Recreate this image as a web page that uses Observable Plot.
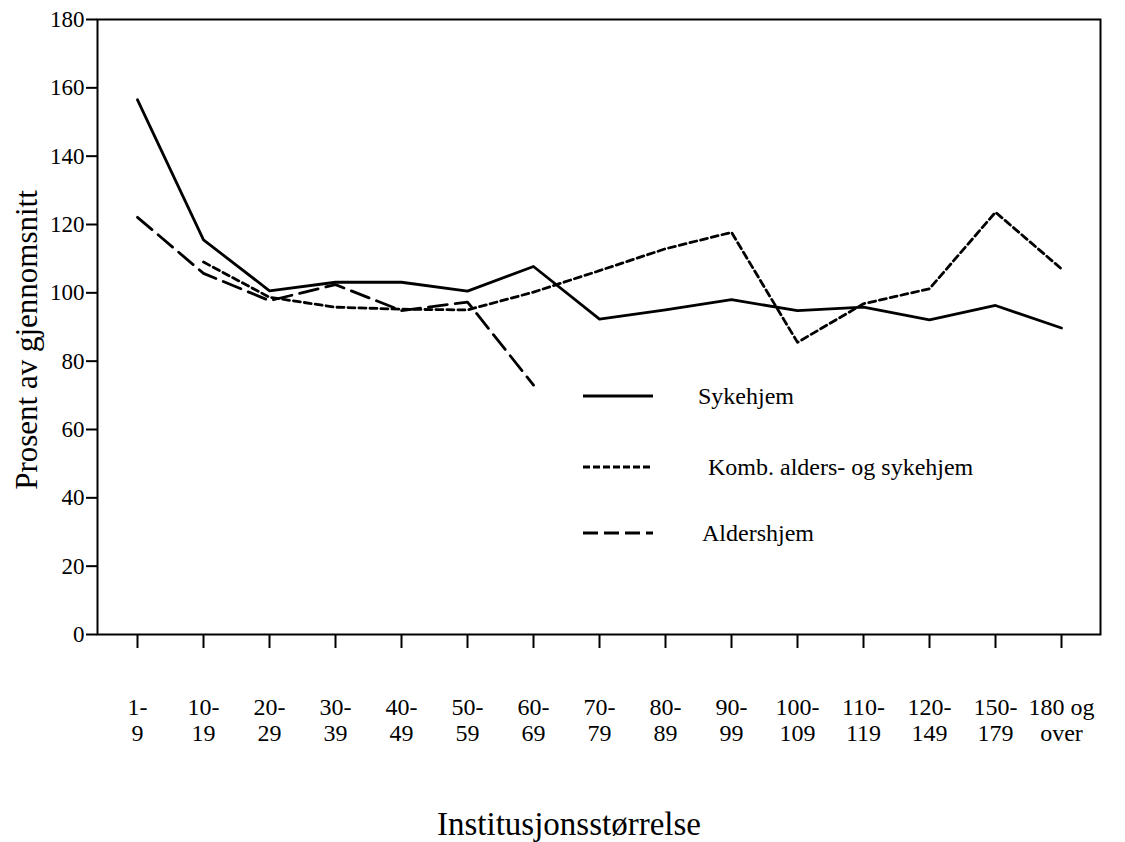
<!DOCTYPE html>
<html>
<head>
<meta charset="utf-8">
<script src="https://cdn.jsdelivr.net/npm/d3@7"></script>
<script src="https://cdn.jsdelivr.net/npm/@observablehq/plot@0.6"></script>
<style>
  html, body { margin: 0; padding: 0; background: #fff; }
  #wrap { position: relative; width: 1125px; height: 842px; font-family: "Liberation Serif", "Times New Roman", serif; }
  #legend { position: absolute; left: 0; top: 0; width: 1125px; height: 842px; pointer-events: none; }
  .item { position: absolute; display: flex; align-items: center; font-size: 24px; line-height: 26px; color: #000; }
</style>
</head>
<body>
<div id="wrap"></div>
<script>
const categories = ["1-\n9","10-\n19","20-\n29","30-\n39","40-\n49","50-\n59","60-\n69","70-\n79","80-\n89","90-\n99","100-\n109","110-\n119","120-\n149","150-\n179","180 og\nover"];
const sykehjem = [156.5, 115.5, 100.6, 103.1, 103.1, 100.5, 107.7, 92.3, 95.0, 98.0, 94.8, 95.8, 92.1, 96.3, 89.7];
const komb     = [null, 109.0, 98.7, 95.8, 95.2, 95.0, 100.2, 106.5, 112.9, 117.7, 85.5, 96.8, 101.2, 123.6, 107.0];
const alders   = [122.1, 105.7, 97.7, 102.4, 94.8, 97.3, 73.0, null, null, null, null, null, null, null, null];
const yTicks = [0, 20, 40, 60, 80, 100, 120, 140, 160, 180];
const seriesNames = ["Sykehjem", " Komb. alders- og sykehjem", "Aldershjem"];
const yLabel = "Prosent av gjennomsnitt";
const xLabel = "Institusjonsstørrelse";

const toRows = (vals) => categories.map((c, i) => ({cat: c, v: vals[i]})).filter(d => d.v != null);

const font = "Liberation Serif, Times New Roman, serif";

const chart = Plot.plot({
  width: 1125,
  height: 842,
  marginLeft: 97,
  marginRight: 25,
  marginTop: 19,
  marginBottom: 208,
  style: {fontFamily: font, fontSize: "23px", color: "#000", background: "#fff"},
  x: {type: "point", domain: categories, padding: 0.5},
  y: {domain: [0, 180]},
  marks: [
    Plot.frame({stroke: "#000", strokeWidth: 2}),
    Plot.axisY({ticks: yTicks, tickSize: 11, tickPadding: 2, tickFormat: d => String(d), label: null, fontSize: 23, strokeWidth: 2}),
    Plot.axisX({tickSize: 14, tickPadding: 47, label: null, fontSize: 24, lineHeight: 1.12, strokeWidth: 2}),
    Plot.line(toRows(sykehjem), {x: "cat", y: "v", stroke: "#000", strokeWidth: 2.8}),
    Plot.line(toRows(komb), {x: "cat", y: "v", stroke: "#000", strokeWidth: 2.8, strokeDasharray: "7,4"}),
    Plot.line(toRows(alders), {x: "cat", y: "v", stroke: "#000", strokeWidth: 2.8, strokeDasharray: "19,8"}),
    Plot.text([yLabel], {text: d => d, frameAnchor: "left", textAnchor: "middle", lineAnchor: "middle", rotate: -90, dx: -70, dy: 13, fontSize: 31}),
    Plot.text([xLabel], {text: d => d, frameAnchor: "bottom", textAnchor: "middle", lineAnchor: "middle", dy: 190, dx: -30, fontSize: 33})
  ]
});

const wrap = document.getElementById("wrap");
wrap.appendChild(chart);

// legend overlay
const legend = document.createElement("div");
legend.id = "legend";
const dashes = [null, "7,3", "15,6"];
const legendCenters = [396, 467, 533];
const textLeft = [698, 702, 702];
seriesNames.forEach((name, i) => {
  const item = document.createElement("div");
  item.className = "item";
  item.style.left = "583px";
  item.style.top = (legendCenters[i] - 13) + "px";
  const svg = document.createElementNS("http://www.w3.org/2000/svg", "svg");
  svg.setAttribute("width", "70");
  svg.setAttribute("height", "26");
  const ln = document.createElementNS("http://www.w3.org/2000/svg", "line");
  ln.setAttribute("x1", "0"); ln.setAttribute("x2", "70");
  ln.setAttribute("y1", "13"); ln.setAttribute("y2", "13");
  ln.setAttribute("stroke", "#000"); ln.setAttribute("stroke-width", "2.8");
  if (dashes[i]) ln.setAttribute("stroke-dasharray", dashes[i]);
  svg.appendChild(ln);
  item.appendChild(svg);
  const span = document.createElement("span");
  span.style.marginLeft = (textLeft[i] - 583 - 70) + "px";
  span.style.whiteSpace = "pre";
  span.textContent = name;
  item.appendChild(span);
  legend.appendChild(item);
});
wrap.appendChild(legend);
</script>
</body>
</html>
